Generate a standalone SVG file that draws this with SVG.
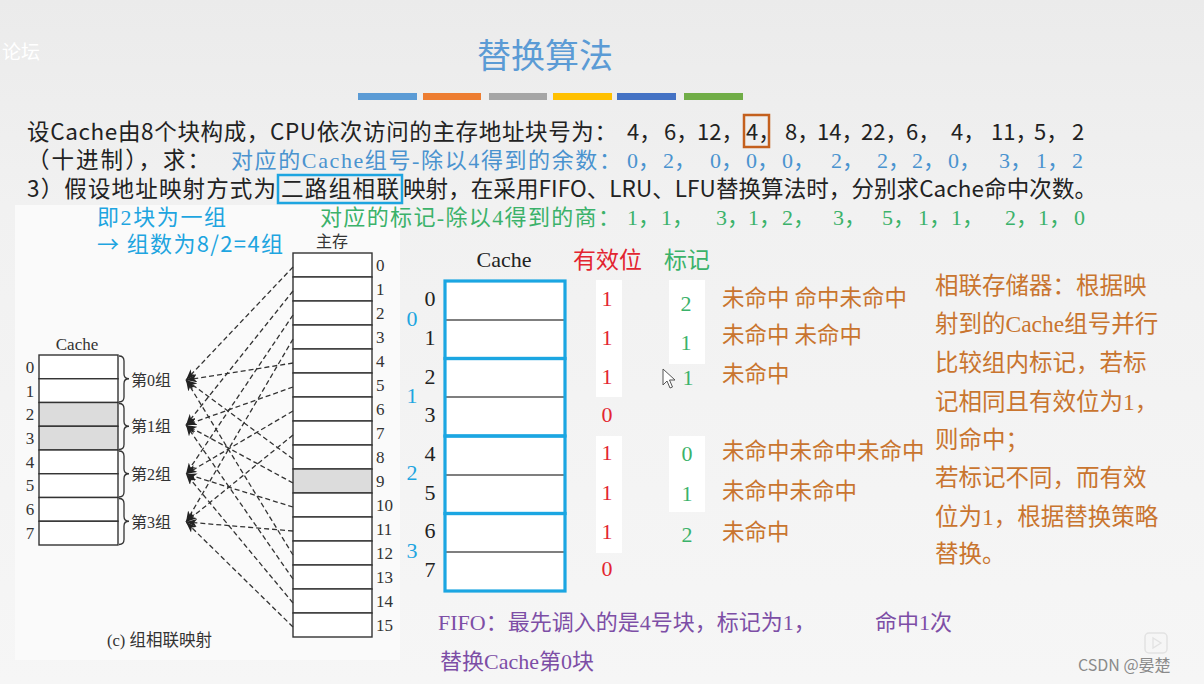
<svg xmlns="http://www.w3.org/2000/svg" width="1204" height="684" viewBox="0 0 1204 684">
<defs>
<linearGradient id="bg" x1="0" y1="0" x2="0" y2="1">
<stop offset="0" stop-color="#ebebeb"/>
<stop offset="0.3" stop-color="#f1f1f1"/>
<stop offset="1" stop-color="#f6f6f6"/>
</linearGradient>
<marker id="ah" markerUnits="userSpaceOnUse" markerWidth="12" markerHeight="8" refX="11" refY="4" orient="auto">
<path d="M0,0 L11,4 L0,8 L3,4 Z" fill="#222"/>
</marker>
<style>
.sans{font-family:"Noto Sans CJK SC","Liberation Sans",sans-serif}
.ser{font-family:"Liberation Serif","Noto Sans CJK SC",serif}
.blk{fill:#222}
.blue{fill:#4a93cf}
.cyan{fill:#1ea5e0}
.grn{fill:#3bb26a}
.red{fill:#e32530}
.org{fill:#c9752f}
.pur{fill:#7d4ea6}
.cell{fill:#fff;stroke:#333;stroke-width:1.4}
.grey{fill:#dcdcdc;stroke:#333;stroke-width:1.4}
.dash{stroke:#333;stroke-width:1.3;stroke-dasharray:5,3;fill:none;marker-end:url(#ah)}
.brace{fill:none;stroke:#333;stroke-width:1.3}
.grp{fill:none;stroke:#1ba6e2;stroke-width:3.2}
.mid{stroke:#555;stroke-width:1.6}
</style>
</defs>
<rect x="0" y="0" width="1204" height="684" fill="url(#bg)"/>
<rect x="15" y="205" width="385" height="455" fill="#fafafa"/>
<text x="2" y="59" class="sans" font-size="19" fill="#ffffff">论坛</text>

<g id="title">
<text x="545" y="68" text-anchor="middle" class="sans" font-size="34" fill="#5b9bd5">替换算法</text>
<rect x="358" y="93" width="59" height="7" fill="#5b9bd5"/>
<rect x="423" y="93" width="58" height="7" fill="#ed7d31"/>
<rect x="489" y="93" width="58" height="7" fill="#a5a5a5"/>
<rect x="553" y="93" width="59" height="7" fill="#ffc000"/>
<rect x="617" y="93" width="59" height="7" fill="#4472c4"/>
<rect x="684" y="93" width="59" height="7" fill="#70ad47"/>
</g>

<g id="question">
<text x="27" y="140" class="sans blk" font-size="22.5" textLength="590" lengthAdjust="spacing">设Cache由8个块构成，CPU依次访问的主存地址块号为：</text>
<text y="140" class="sans blk" font-size="22"><tspan x="627">4，</tspan><tspan x="664">6，</tspan><tspan x="697">12，</tspan><tspan x="746">4，</tspan><tspan x="785">8，</tspan><tspan x="817">14，</tspan><tspan x="861">22，</tspan><tspan x="906">6，</tspan><tspan x="951">4，</tspan><tspan x="991">11，</tspan><tspan x="1034">5，</tspan><tspan x="1072">2</tspan></text>
<rect x="744" y="115" width="25" height="32" fill="none" stroke="#c4601e" stroke-width="2.5"/>
<text x="27" y="168" class="sans blk" font-size="22.5" textLength="183" lengthAdjust="spacing">（十进制），求：</text>
<text x="231" y="168" class="ser blue" font-size="22" textLength="390" lengthAdjust="spacing">对应的Cache组号-除以4得到的余数：</text>
<text y="168" class="ser blue" font-size="22"><tspan x="627">0，</tspan><tspan x="663">2，</tspan><tspan x="710">0，</tspan><tspan x="746">0，</tspan><tspan x="782">0，</tspan><tspan x="831">2，</tspan><tspan x="877">2，</tspan><tspan x="912">2，</tspan><tspan x="948">0，</tspan><tspan x="999">3，</tspan><tspan x="1036">1，</tspan><tspan x="1072">2</tspan></text>
<text x="27" y="197" class="sans blk" font-size="22.5" textLength="249" lengthAdjust="spacing">3）假设地址映射方式为</text>
<text x="281" y="197" class="sans blk" font-size="22.5" textLength="118" lengthAdjust="spacing">二路组相联</text>
<text x="403" y="197" class="sans blk" font-size="22.5" textLength="694" lengthAdjust="spacing">映射，在采用FIFO、LRU、LFU替换算法时，分别求Cache命中次数。</text>
<rect x="278" y="175" width="124" height="28" fill="none" stroke="#1ea5e0" stroke-width="2.5"/>
<text x="97" y="225" class="ser cyan" font-size="22" textLength="129" lengthAdjust="spacing">即2块为一组</text>
<text x="320" y="225" class="ser grn" font-size="22" textLength="300" lengthAdjust="spacing">对应的标记-除以4得到的商：</text>
<text y="225" class="ser grn" font-size="22"><tspan x="627">1，</tspan><tspan x="661">1，</tspan><tspan x="716">3，</tspan><tspan x="748">1，</tspan><tspan x="782">2，</tspan><tspan x="833">3，</tspan><tspan x="882">5，</tspan><tspan x="918">1，</tspan><tspan x="951">1，</tspan><tspan x="1005">2，</tspan><tspan x="1038">1，</tspan><tspan x="1074">0</tspan></text>
<text x="97" y="252" class="sans cyan" font-size="22" textLength="186" lengthAdjust="spacing">→ 组数为8/2=4组</text>
</g>

<g id="left-cache">
<text x="77" y="350" text-anchor="middle" class="ser" font-size="17" fill="#333">Cache</text>
<rect x="39" y="355" width="79" height="23.75" class="cell"/>
<rect x="39" y="378.75" width="79" height="23.75" class="cell"/>
<rect x="39" y="402.5" width="79" height="23.75" class="grey"/>
<rect x="39" y="426.25" width="79" height="23.75" class="grey"/>
<rect x="39" y="450" width="79" height="23.75" class="cell"/>
<rect x="39" y="473.75" width="79" height="23.75" class="cell"/>
<rect x="39" y="497.5" width="79" height="23.75" class="cell"/>
<rect x="39" y="521.25" width="79" height="23.75" class="cell"/>
<g class="ser" font-size="17" fill="#333" text-anchor="middle">
<text x="30" y="373">0</text><text x="30" y="397">1</text><text x="30" y="420">2</text><text x="30" y="444">3</text>
<text x="30" y="468">4</text><text x="30" y="491">5</text><text x="30" y="515">6</text><text x="30" y="539">7</text>
</g>
<path class="brace" d="M119,356 Q124,356 124,361 L124,374 Q124,378.75 129,378.75 Q124,378.75 124,383.5 L124,397 Q124,402 119,402"/>
<path class="brace" d="M119,403.5 Q124,403.5 124,408.5 L124,421.5 Q124,426.25 129,426.25 Q124,426.25 124,431 L124,444.5 Q124,449.5 119,449.5"/>
<path class="brace" d="M119,451 Q124,451 124,456 L124,469 Q124,473.75 129,473.75 Q124,473.75 124,478.5 L124,492 Q124,497 119,497"/>
<path class="brace" d="M119,498.5 Q124,498.5 124,503.5 L124,516.5 Q124,521.25 129,521.25 Q124,521.25 124,526 L124,539.5 Q124,544.5 119,544.5"/>
<g class="ser" font-size="16" fill="#333">
<text x="131" y="386">第0组</text><text x="131" y="432">第1组</text><text x="131" y="480">第2组</text><text x="131" y="528">第3组</text>
</g>
</g>

<g id="main-memory">
<text x="332" y="247" text-anchor="middle" class="sans" font-size="16" fill="#333">主存</text>
<rect x="293" y="253" width="79" height="24" class="cell"/>
<rect x="293" y="277" width="79" height="24" class="cell"/>
<rect x="293" y="301" width="79" height="24" class="cell"/>
<rect x="293" y="325" width="79" height="24" class="cell"/>
<rect x="293" y="349" width="79" height="24" class="cell"/>
<rect x="293" y="373" width="79" height="24" class="cell"/>
<rect x="293" y="397" width="79" height="24" class="cell"/>
<rect x="293" y="421" width="79" height="24" class="cell"/>
<rect x="293" y="445" width="79" height="24" class="cell"/>
<rect x="293" y="469" width="79" height="24" class="grey"/>
<rect x="293" y="493" width="79" height="24" class="cell"/>
<rect x="293" y="517" width="79" height="24" class="cell"/>
<rect x="293" y="541" width="79" height="24" class="cell"/>
<rect x="293" y="565" width="79" height="24" class="cell"/>
<rect x="293" y="589" width="79" height="24" class="cell"/>
<rect x="293" y="613" width="79" height="24" class="cell"/>
<g class="ser" font-size="17" fill="#333">
<text x="376" y="271">0</text><text x="376" y="295">1</text><text x="376" y="319">2</text><text x="376" y="343">3</text>
<text x="376" y="367">4</text><text x="376" y="391">5</text><text x="376" y="415">6</text><text x="376" y="439">7</text>
<text x="376" y="463">8</text><text x="376" y="487">9</text><text x="376" y="511">10</text><text x="376" y="535">11</text>
<text x="376" y="559">12</text><text x="376" y="583">13</text><text x="376" y="607">14</text><text x="376" y="631">15</text>
</g>
<text x="107" y="646" class="ser" font-size="16.5" fill="#333">(c) 组相联映射</text>
</g>

<g id="connectors">
<line class="dash" x1="293" y1="267" x2="186" y2="380"/>
<line class="dash" x1="293" y1="291" x2="186" y2="425"/>
<line class="dash" x1="293" y1="315" x2="186" y2="474"/>
<line class="dash" x1="293" y1="339" x2="186" y2="522"/>
<line class="dash" x1="293" y1="363" x2="186" y2="380"/>
<line class="dash" x1="293" y1="387" x2="186" y2="425"/>
<line class="dash" x1="293" y1="411" x2="186" y2="474"/>
<line class="dash" x1="293" y1="435" x2="186" y2="522"/>
<line class="dash" x1="293" y1="459" x2="186" y2="380"/>
<line class="dash" x1="293" y1="483" x2="186" y2="425"/>
<line class="dash" x1="293" y1="507" x2="186" y2="474"/>
<line class="dash" x1="293" y1="531" x2="186" y2="522"/>
<line class="dash" x1="293" y1="555" x2="186" y2="380"/>
<line class="dash" x1="293" y1="579" x2="186" y2="425"/>
<line class="dash" x1="293" y1="603" x2="186" y2="474"/>
<line class="dash" x1="293" y1="627" x2="186" y2="522"/>
</g>

<g id="cache-table">
<rect x="596" y="280" width="26" height="117" fill="#ffffff"/>
<rect x="596" y="436" width="26" height="117" fill="#ffffff"/>
<rect x="669" y="280" width="36" height="84" fill="#ffffff"/>
<rect x="669" y="436" width="36" height="76" fill="#ffffff"/>
<text x="504" y="267" text-anchor="middle" class="ser" font-size="22" fill="#222">Cache</text>
<text x="573" y="268" class="sans red" font-size="23">有效位</text>
<text x="664" y="268" class="sans grn" font-size="23">标记</text>
<rect x="445" y="281" width="120" height="310" fill="#fff"/>
<line class="mid" x1="445" y1="320" x2="565" y2="320"/>
<line class="mid" x1="445" y1="397" x2="565" y2="397"/>
<line class="mid" x1="445" y1="475" x2="565" y2="475"/>
<line class="mid" x1="445" y1="552" x2="565" y2="552"/>
<rect class="grp" x="445" y="281" width="120" height="77.5"/>
<rect class="grp" x="445" y="358.5" width="120" height="77.5"/>
<rect class="grp" x="445" y="436" width="120" height="77.5"/>
<rect class="grp" x="445" y="513.5" width="120" height="77.5"/>
<g class="ser" font-size="22" fill="#222" text-anchor="middle">
<text x="430" y="306">0</text><text x="430" y="345">1</text><text x="430" y="384">2</text><text x="430" y="422">3</text>
<text x="430" y="461">4</text><text x="430" y="500">5</text><text x="430" y="538">6</text><text x="430" y="577">7</text>
</g>
<g class="ser cyan" font-size="22" text-anchor="middle">
<text x="412" y="326">0</text><text x="412" y="403">1</text><text x="412" y="480">2</text><text x="412" y="558">3</text>
</g>
<g class="ser red" font-size="22" text-anchor="middle">
<text x="607" y="306">1</text><text x="607" y="345">1</text><text x="607" y="384">1</text><text x="607" y="422">0</text>
<text x="607" y="460">1</text><text x="607" y="500">1</text><text x="607" y="539">1</text><text x="607" y="576">0</text>
</g>
<g class="ser grn" font-size="22" text-anchor="middle">
<text x="686" y="311">2</text><text x="686" y="350">1</text><text x="688" y="385">1</text>
<text x="687" y="461">0</text><text x="687" y="501">1</text><text x="687" y="542">2</text>
</g>
<path d="M663,369 L663,385 L667,381 L670,388 L672.5,387 L669.5,380 L675,380 Z" fill="#fff" stroke="#555" stroke-width="1"/>
<g class="sans org" font-size="22.5">
<text x="722" y="306">未命中 命中未命中</text>
<text x="722" y="343">未命中 未命中</text>
<text x="722" y="382">未命中</text>
<text x="722" y="459">未命中未命中未命中</text>
<text x="722" y="499">未命中未命中</text>
<text x="722" y="540">未命中</text>
</g>
</g>

<g id="note" class="ser org" font-size="23.5">
<text x="935" y="294">相联存储器：根据映</text>
<text x="935" y="332">射到的Cache组号并行</text>
<text x="935" y="371">比较组内标记，若标</text>
<text x="935" y="410">记相同且有效位为1，</text>
<text x="935" y="448">则命中；</text>
<text x="935" y="486">若标记不同，而有效</text>
<text x="935" y="525">位为1，根据替换策略</text>
<text x="935" y="562">替换。</text>
</g>

<g id="fifo" class="ser pur" font-size="22">
<text x="438" y="630">FIFO：最先调入的是4号块，标记为1，</text>
<text x="875" y="630">命中1次</text>
<text x="440" y="669">替换Cache第0块</text>
</g>

<g id="watermark">
<rect x="1145" y="633" width="22" height="20" rx="4" fill="none" stroke="#e2e2e2" stroke-width="1.5"/>
<path d="M1153,638 L1153,648 L1161,643 Z" fill="none" stroke="#e2e2e2" stroke-width="1.3"/>
<text x="1078" y="671" class="sans" font-size="16" fill="#8a8a8a">CSDN @晏楚</text>
</g>
</svg>
